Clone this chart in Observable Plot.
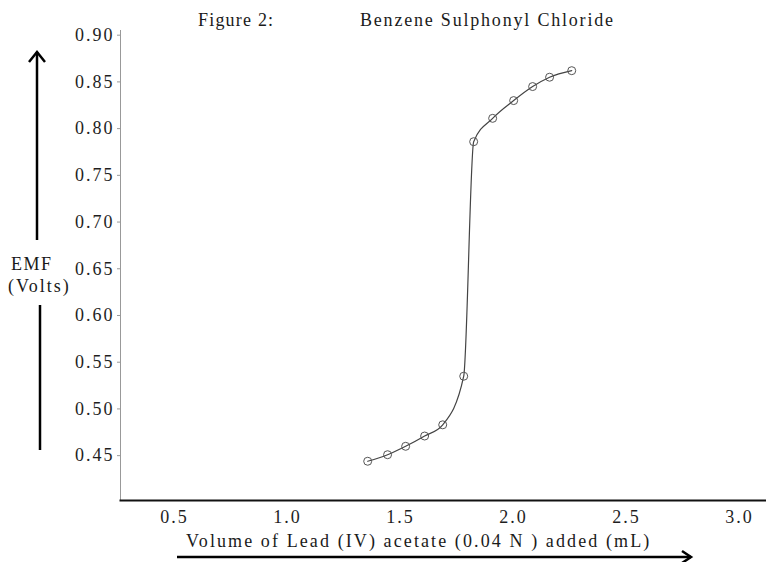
<!DOCTYPE html>
<html><head><meta charset="utf-8">
<script src="https://cdn.jsdelivr.net/npm/d3@7"></script>
<script src="https://cdn.jsdelivr.net/npm/@observablehq/plot@0.6"></script>
<style>
body{margin:0;background:#fff;}
#wrap{position:relative;width:766px;height:562px;}
#wrap svg.overlay{position:absolute;left:0;top:0;pointer-events:none;}
</style></head><body><div id="wrap"></div>
<script>
// Data
const volume = [1.355, 1.443, 1.523, 1.607, 1.687, 1.780, 1.824, 1.908, 2.001, 2.085, 2.160, 2.258];
const emf    = [0.444, 0.451, 0.460, 0.471, 0.483, 0.535, 0.786, 0.811, 0.830, 0.845, 0.855, 0.862];
const xTicks = [0.5, 1.0, 1.5, 2.0, 2.5, 3.0];
const yTicks = [0.45, 0.50, 0.55, 0.60, 0.65, 0.70, 0.75, 0.80, 0.85, 0.90];
const titleLeft = "Figure 2:";
const titleRight = "Benzene Sulphonyl Chloride";
const yLabel = ["EMF", "(Volts)"];
const xLabel = "Volume of Lead (IV) acetate (0.04 N ) added (mL)";

const data = volume.map((v, i) => ({v, e: emf[i]}));

const chart = Plot.plot({
  width: 766, height: 562,
  marginLeft: 120, marginRight: 0, marginTop: 30, marginBottom: 62,
  style: {fontFamily: "'Liberation Serif', 'Times New Roman', serif", fontSize: "18px", background: "white", color: "#1e1e1e", letterSpacing: "2px"},
  x: {domain: [0.261, 3.12]},
  y: {domain: [0.402, 0.905]},
  marks: [
    Plot.frame({anchor: "left", stroke: "#999", strokeWidth: 1}),
    Plot.frame({anchor: "bottom", stroke: "#111", strokeWidth: 2}),
    Plot.axisY(yTicks, {anchor: "left", tickSize: 3, tickPadding: 3, tickFormat: d3.format(".2f"), label: null, stroke: "#999"}),
    Plot.axisX(xTicks, {anchor: "bottom", tickSize: 0, tickPadding: 10, tickFormat: d3.format(".1f"), label: null}),
    Plot.line(data, {x: "v", y: "e", curve: "monotone-x", stroke: "#444", strokeWidth: 1.2}),
    Plot.dot(data, {x: "v", y: "e", r: 4, stroke: "#555", fill: "none", strokeWidth: 1})
  ]
});
const wrap = document.getElementById("wrap");
wrap.appendChild(chart);

// Annotation overlay: titles, axis labels and the hand-drawn arrows
const ov = d3.select(wrap).append("svg").attr("class", "overlay").attr("width", 766).attr("height", 562)
  .style("font-family", "'Liberation Serif', 'Times New Roman', serif").style("font-size", "18px").attr("fill", "#1a1a1a");
ov.append("text").attr("x", 198).attr("y", 26).style("letter-spacing", "1.2px").text(titleLeft);
ov.append("text").attr("x", 360).attr("y", 26).style("letter-spacing", "1.8px").text(titleRight);
ov.append("text").attr("x", 11).attr("y", 270).style("letter-spacing", "1.5px").text(yLabel[0]);
ov.append("text").attr("x", 8).attr("y", 292).style("letter-spacing", "2px").text(yLabel[1]);
ov.append("text").attr("x", 186).attr("y", 547).style("letter-spacing", "2.1px").text(xLabel);
const g = ov.append("g").attr("stroke", "#000").attr("stroke-width", 2.5).attr("fill", "none");
g.append("line").attr("x1", 37).attr("y1", 240).attr("x2", 37).attr("y2", 52);
g.append("path").attr("d", "M29,62 L37,52 L45,62");
g.append("line").attr("x1", 40).attr("y1", 305).attr("x2", 40).attr("y2", 450);
g.append("line").attr("x1", 177).attr("y1", 557).attr("x2", 691).attr("y2", 557);
g.append("path").attr("d", "M682,551 L691,557 L682,563");
</script></body></html>
